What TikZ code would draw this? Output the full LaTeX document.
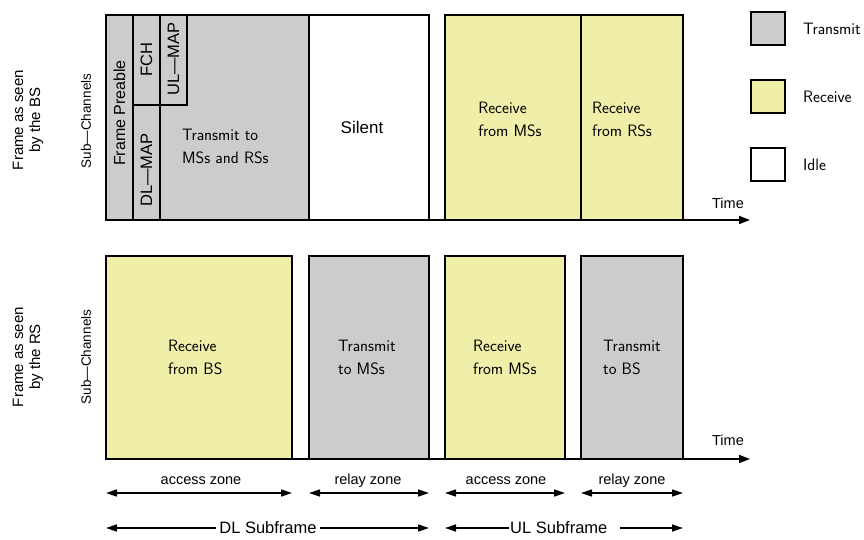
\documentclass[tikz,border=0pt]{standalone}
\usepackage{fontspec}
\setmainfont{Liberation Sans}
\usetikzlibrary{arrows.meta}
\definecolor{txgray}{HTML}{CCCCCC}
\definecolor{rxyellow}{HTML}{EFEFA9}
\begin{document}
\begin{tikzpicture}[x=1pt,y=-1pt,
  slot/.style={draw=black,line width=1.8pt},
  tx/.style={slot,fill=txgray},
  rx/.style={slot,fill=rxyellow},
  idle/.style={slot,fill=white},
  lm/.style={font=\fontsize{16.5}{23}\sffamily,align=left,inner sep=0pt},
  hv/.style={font=\fontsize{15}{17}\selectfont,inner sep=0pt},
  mid/.style={font=\fontsize{16.5}{18}\selectfont,inner sep=0pt},
  small/.style={font=\fontsize{14.5}{16}\selectfont,inner sep=0pt},
  axis/.style={line width=1.8pt,-{Triangle[length=11pt,width=8pt]}},
  span/.style={line width=1.6pt,{Triangle[length=11pt,width=7pt]}-{Triangle[length=11pt,width=7pt]}}]
\useasboundingbox (0,0) rectangle (864,540);

% ---- frame seen by the BS ----
\draw[tx] (106,15) rectangle (309,220);
\draw[tx] (106,15) rectangle (133,220);
\draw[tx] (133,15) rectangle (160,105);
\draw[tx] (133,105) rectangle (160,220);
\draw[tx] (160,15) rectangle (187,105);
\draw[idle] (309,15) rectangle (429,220);
\draw[rx] (445,15) rectangle (581,220);
\draw[rx] (581,15) rectangle (683,220);

\node[font=\fontsize{16}{18}\selectfont,inner sep=0pt,rotate=90] (pre) at (119.5,113) {Frame Preable};
\node[mid,rotate=90] (fch) at (146.5,60) {FCH};
\node[mid,rotate=90] (dlmap) at (146.5,170) {DL---MAP};
\node[mid,rotate=90] (ulmap) at (173.5,59) {UL---MAP};
\node[lm,anchor=west] (bstx) at (182,146) {Transmit to\\MSs and RSs};
\node[font=\fontsize{17}{18}\selectfont,inner sep=0pt] (silent) at (362,127) {Silent};
\node[lm] (bsrx1) at (510,119) {Receive\\from MSs};
\node[lm] (bsrx2) at (622,119) {Receive\\from RSs};

\coordinate (t1s) at (106,220);
\coordinate (t1e) at (750,220);
\draw[axis] (t1s) -- (t1e);
\node[small] (time1) at (728,203) {Time};

% ---- frame seen by the RS ----
\draw[rx] (106,256) rectangle (292,459);
\draw[tx] (309,256) rectangle (429,459);
\draw[rx] (445,256) rectangle (565,459);
\draw[tx] (581,256) rectangle (683,459);

\node[lm,anchor=west] (rsrx1) at (168,357) {Receive\\from BS};
\node[lm,anchor=west] (rstx1) at (338,357) {Transmit\\to MSs};
\node[lm,anchor=west] (rsrx2) at (473,357) {Receive\\from MSs};
\node[lm,anchor=west] (rstx2) at (603,357) {Transmit\\to BS};

\coordinate (t2s) at (106,459);
\coordinate (t2e) at (750,459);
\draw[axis] (t2s) -- (t2e);
\node[small] (time2) at (728,440) {Time};

% ---- side labels ----
\node[hv,rotate=90,align=center] (bslab) at (28,120) {Frame as seen\\by the BS};
\node[small,font=\fontsize{13.5}{16}\selectfont,rotate=90] (bssub) at (86,121) {Sub---Channels};
\node[hv,rotate=90,align=center] (rslab) at (28,357) {Frame as seen\\by the RS};
\node[small,font=\fontsize{13.5}{16}\selectfont,rotate=90] (rssub) at (86,357) {Sub---Channels};

% ---- zone spans ----
\coordinate (a1l) at (106,493); \coordinate (a1r) at (292,493);
\coordinate (r1l) at (309,493); \coordinate (r1r) at (429,493);
\coordinate (a2l) at (445,493); \coordinate (a2r) at (565,493);
\coordinate (r2l) at (581,493); \coordinate (r2r) at (683,493);
\draw[span] (a1l) -- (a1r);
\draw[span] (r1l) -- (r1r);
\draw[span] (a2l) -- (a2r);
\draw[span] (r2l) -- (r2r);
\node[small] (az1) at (201,481) {access zone};
\node[small] (rz1) at (368,481) {relay zone};
\node[small] (az2) at (506,481) {access zone};
\node[small] (rz2) at (632,481) {relay zone};

% ---- subframe spans ----
\coordinate (dll) at (106,528); \coordinate (dlr) at (429,528);
\coordinate (ull) at (445,528); \coordinate (ulr) at (683,528);
\draw[span] (dll) -- (dlr);
\draw[span] (ull) -- (ulr);
\node[mid,fill=white,inner xsep=3pt,inner ysep=2pt] (dlsub) at (268,528) {DL Subframe};
\node[mid,fill=white,inner xsep=1pt,inner ysep=2pt,anchor=west] (ulsub) at (509,528) {UL Subframe\hspace*{12pt}};

% ---- legend ----
\draw[tx] (751,12) rectangle (785,45);
\draw[rx] (751,80) rectangle (785,113);
\draw[idle] (751,148) rectangle (785,181);
\node[lm,anchor=west] (legtx) at (803,29) {Transmit};
\node[lm,anchor=west] (legrx) at (803,97) {Receive};
\node[lm,anchor=west] (legid) at (803,165) {Idle};
\end{tikzpicture}
\end{document}
